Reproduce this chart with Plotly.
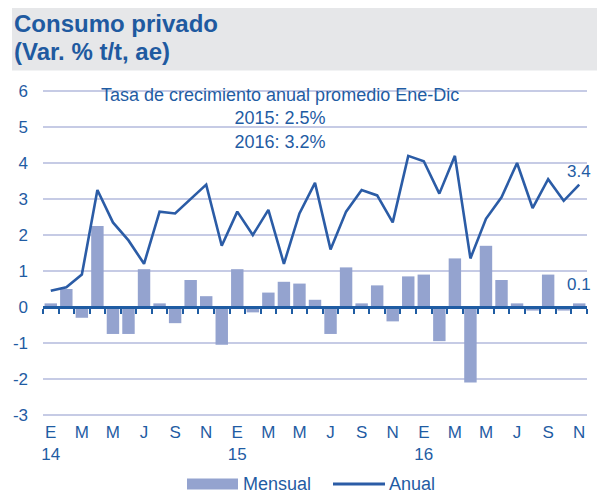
import plotly.graph_objects as go

# ---- data ----
months = list(range(35))  # Jan 2014 .. Nov 2016
mensual = [0.1, 0.5, -0.3, 2.25, -0.75, -0.75, 1.05, 0.1, -0.45, 0.75, 0.3, -1.05,
           1.05, -0.15, 0.4, 0.7, 0.65, 0.2, -0.75, 1.1, 0.1, 0.6, -0.4, 0.85,
           0.9, -0.95, 1.35, -2.1, 1.7, 0.75, 0.1, -0.1, 0.9, -0.1, 0.1]
anual = [0.45, 0.55, 0.9, 3.25, 2.35, 1.85, 1.2, 2.65, 2.6, 3.0, 3.4, 1.7,
         2.65, 2.0, 2.7, 1.2, 2.6, 3.45, 1.6, 2.65, 3.25, 3.1, 2.35, 4.2,
         4.05, 3.15, 4.2, 1.35, 2.45, 3.05, 4.0, 2.75, 3.55, 2.95, 3.4]
tick_pos = list(range(0, 35, 2))
tick_text = ["E<br>14", "M", "M", "J", "S", "N",
             "E<br>15", "M", "M", "J", "S", "N",
             "E<br>16", "M", "M", "J", "S", "N"]
y_ticks = [-3, -2, -1, 0, 1, 2, 3, 4, 5, 6]
y_tick_text = ["-3", "-2", "-1", "0", "1", "2", "3", "4", "5", "6"]
names = ["Mensual", "Anual"]
title_lines = ["Consumo privado", "(Var. % t/t, ae)"]
note = "Tasa de crecimiento anual promedio Ene-Dic<br>2015: 2.5%<br>2016: 3.2%"

BAR = "#94A3CF"
LINE = "#2B5CA6"
TXT = "#1F5CA3"
GRID = "#C6CBE5"
FONT = "Liberation Sans, Arial, sans-serif"

# page has an 8px body margin: figure drawn at (8, 8)
OFF = 8
W, H = 605 - OFF, 497 - OFF
# plot area in page pixels: x 43..587, y(6)=91, y(-3)=415
ymin, ymax = -3.03, 6.03
upx = (415 - 91) / 9.0
top_pg = 91 - (ymax - 6) * upx
bot_pg = 415 + (-3 - ymin) * upx
L = 43 - OFF
R = W - (587 - OFF)
T = top_pg - OFF
B = H - (bot_pg - OFF)
pw, ph = W - L - R, H - T - B


def px(xp):  # page pixel x -> paper
    return (xp - OFF - L) / pw


def py(yp):  # page pixel y -> paper
    return (H - B - (yp - OFF)) / ph


fig = go.Figure()
fig.add_trace(go.Bar(x=months, y=mensual, name=names[0], marker_color=BAR,
                     marker_line_width=0, showlegend=False, hoverinfo="skip"))
fig.add_trace(go.Scatter(x=months, y=anual, name=names[1], mode="lines",
                         line=dict(color=LINE, width=2.6), xaxis="x2",
                         showlegend=False, hoverinfo="skip"))

xr = [-0.5, 34.5]
fig.update_layout(
    width=W, height=H,
    margin=dict(l=L, r=R, t=T, b=B, pad=0, autoexpand=False),
    paper_bgcolor="white", plot_bgcolor="white",
    font=dict(family=FONT, size=17, color=TXT),
    bargap=0.2,
    xaxis=dict(range=xr, tickmode="array", tickvals=tick_pos, ticktext=tick_text,
               showgrid=False, zeroline=False, showline=False, ticks="",
               automargin=False,
               ticklabelstandoff=4, tickfont=dict(size=17, color=TXT)),
    xaxis2=dict(range=xr, overlaying="x", anchor="free",
                position=(0 - ymin) / (ymax - ymin), automargin=False,
                side="bottom", showgrid=False, zeroline=False,
                showline=True, linecolor="#1F5CA3", linewidth=3,
                tickmode="array", tickvals=[i - 0.5 for i in range(36)],
                ticks="outside", ticklen=5, tickwidth=2, tickcolor="#1F5CA3",
                showticklabels=False),
    yaxis=dict(range=[ymin, ymax], tickmode="array", tickvals=y_ticks,
               ticktext=y_tick_text, showgrid=True, gridcolor=GRID,
               gridwidth=1.5, zeroline=False, showline=False, ticks="",
               automargin=False,
               ticklabelstandoff=14, tickfont=dict(size=17, color=TXT)),
)

# header
fig.add_shape(type="rect", xref="paper", yref="paper", x0=px(12), x1=px(604),
              y0=py(70.5), y1=py(3), fillcolor="#E6E7E9", line_width=0, layer="below")
for t, yc in zip(title_lines, [23.5, 51.5]):
    fig.add_annotation(xref="paper", yref="paper", x=px(12), y=py(yc), xanchor="left",
                       yanchor="middle", text="<b>" + t + "</b>", showarrow=False,
                       font=dict(size=24, color="#1F5AA0", family=FONT))

# note
fig.add_annotation(xref="paper", yref="paper", x=px(280), y=py(118.5), xanchor="center",
                   yanchor="middle", align="center", text=note, showarrow=False,
                   font=dict(size=18, color=TXT, family=FONT))

# end labels
fig.add_annotation(x=months[-1], y=anual[-1], xref="x", yref="y", text=f"{anual[-1]:.1f}",
                   showarrow=False, yshift=13, font=dict(size=17, color=TXT))
fig.add_annotation(x=months[-1], y=mensual[-1], xref="x", yref="y", text=f"{mensual[-1]:.1f}",
                   showarrow=False, yshift=19, font=dict(size=17, color=TXT))

# custom legend
ly = 484
fig.add_shape(type="rect", xref="paper", yref="paper", x0=px(187), x1=px(238),
              y0=py(489.5), y1=py(478.5), fillcolor=BAR, line_width=0)
fig.add_annotation(xref="paper", yref="paper", x=px(241), y=py(ly), xanchor="left",
                   yanchor="middle", text=names[0], showarrow=False,
                   font=dict(size=18, color=TXT, family=FONT))
fig.add_shape(type="line", xref="paper", yref="paper", x0=px(333), x1=px(385),
              y0=py(ly), y1=py(ly), line=dict(color=LINE, width=3))
fig.add_annotation(xref="paper", yref="paper", x=px(387), y=py(ly), xanchor="left",
                   yanchor="middle", text=names[1], showarrow=False,
                   font=dict(size=18, color=TXT, family=FONT))

fig.write_html("out.html", config={"displayModeBar": False})
